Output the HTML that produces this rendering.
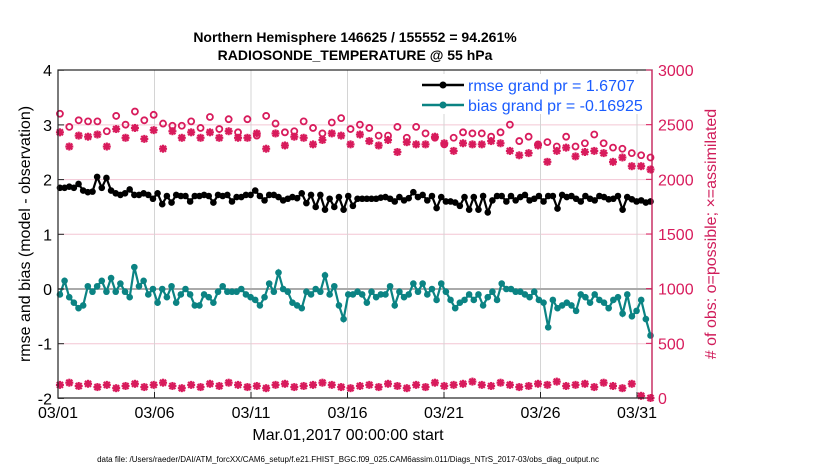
<!DOCTYPE html>
<html><head><meta charset="utf-8"><style>
body{margin:0;background:#fff;font-family:"Liberation Sans",Arial,sans-serif}
svg text{font-family:"Liberation Sans",Arial,sans-serif}
</style></head><body>
<svg id="chart" width="830" height="470" xmlns="http://www.w3.org/2000/svg">
<g id="grid"></g><g id="marks"></g><g id="axes"></g>
<text x="355" y="42" text-anchor="middle" font-size="14" font-weight="bold">Northern Hemisphere 146625 / 155552 = 94.261%</text>
<text x="355" y="60" text-anchor="middle" font-size="14" font-weight="bold">RADIOSONDE_TEMPERATURE @ 55 hPa</text>
<text x="348" y="440" text-anchor="middle" font-size="16">Mar.01,2017 00:00:00 start</text>
<text x="348" y="462" text-anchor="middle" font-size="8">data file: /Users/raeder/DAI/ATM_forcXX/CAM6_setup/f.e21.FHIST_BGC.f09_025.CAM6assim.011/Diags_NTrS_2017-03/obs_diag_output.nc</text>
<text transform="translate(30,234) rotate(-90)" text-anchor="middle" font-size="16">rmse and bias (model - observation)</text>
<text transform="translate(716,234) rotate(-90)" text-anchor="middle" font-size="16" fill="#d01c5a"># of obs: o=possible; ×=assimilated</text>
<g>
<rect x="418" y="74" width="232" height="40" fill="#fff" stroke="none"/>
<line x1="422" y1="85" x2="464" y2="85" stroke="#000" stroke-width="2.5"/><circle cx="443" cy="85" r="3.5" fill="#000"/>
<text x="468" y="91" font-size="16" fill="#1a5cff">rmse grand pr = 1.6707</text>
<line x1="422" y1="105" x2="464" y2="105" stroke="#0b8383" stroke-width="2.5"/><circle cx="443" cy="105" r="3.5" fill="#0b8383"/>
<text x="468" y="111" font-size="16" fill="#1a5cff">bias grand pr = -0.16925</text>
</g>
</svg>
<script>
const xTickLabels=["03/01","03/06","03/11","03/16","03/21","03/26","03/31"];
const xTickDays=[0,5,10,15,20,25,30];
const yLeftTicks=[-2,-1,0,1,2,3,4];
const yRightTicks=[0,500,1000,1500,2000,2500,3000];
const rmse=[1.85,1.85,1.87,1.85,1.92,1.8,1.77,1.78,2.05,1.85,2.03,1.8,1.75,1.72,1.75,1.82,1.72,1.72,1.75,1.72,1.65,1.75,1.55,1.7,1.58,1.72,1.7,1.7,1.6,1.7,1.7,1.72,1.7,1.58,1.72,1.7,1.72,1.6,1.68,1.68,1.72,1.72,1.8,1.7,1.62,1.72,1.72,1.68,1.62,1.65,1.68,1.66,1.75,1.57,1.72,1.5,1.72,1.45,1.65,1.5,1.68,1.45,1.7,1.52,1.65,1.65,1.65,1.65,1.65,1.67,1.68,1.65,1.6,1.68,1.62,1.66,1.77,1.68,1.72,1.62,1.7,1.48,1.68,1.6,1.6,1.58,1.52,1.68,1.45,1.68,1.45,1.7,1.4,1.62,1.7,1.7,1.6,1.7,1.62,1.68,1.72,1.62,1.65,1.7,1.6,1.7,1.7,1.47,1.72,1.68,1.7,1.65,1.6,1.7,1.65,1.62,1.7,1.68,1.64,1.65,1.7,1.45,1.68,1.64,1.6,1.62,1.58,1.6];
const bias=[-0.1,0.15,-0.15,-0.25,-0.35,-0.3,0.05,-0.05,0.05,0.15,-0.05,0.2,-0.05,0.1,-0.05,-0.15,0.4,0.05,0.15,-0.1,0.0,-0.25,0.0,-0.15,0.05,-0.25,-0.1,0.0,-0.1,-0.3,-0.3,-0.1,-0.15,-0.25,-0.05,0.05,-0.05,-0.05,-0.05,0.0,-0.1,-0.15,-0.2,-0.3,-0.15,0.1,-0.05,0.3,0.0,-0.05,-0.25,-0.3,-0.35,-0.05,-0.1,0.0,-0.05,0.25,-0.1,0.05,-0.3,-0.55,-0.1,-0.1,-0.05,-0.1,-0.25,-0.05,-0.15,-0.1,-0.1,0.05,-0.3,-0.05,-0.15,-0.1,0.1,-0.05,0.1,-0.1,0.0,-0.2,0.1,-0.05,-0.2,-0.35,-0.25,-0.2,-0.1,-0.2,-0.1,-0.3,-0.15,-0.05,-0.2,0.1,0.0,0.0,-0.05,-0.05,-0.1,-0.15,-0.05,-0.2,-0.25,-0.7,-0.2,-0.35,-0.3,-0.25,-0.3,-0.4,-0.1,-0.15,-0.25,-0.1,-0.2,-0.25,-0.35,-0.2,-0.15,-0.45,-0.1,-0.5,-0.4,-0.2,-0.55,-0.85];
const obsPossible=[2600,2480,2540,2530,2530,2440,2580,2500,2620,2540,2590,2510,2490,2490,2530,2470,2570,2460,2550,2430,2550,2400,2580,2510,2430,2440,2530,2470,2420,2520,2560,2460,2500,2470,2400,2400,2480,2380,2480,2420,2380,2320,2380,2430,2420,2420,2390,2430,2500,2350,2390,2320,2340,2300,2390,2300,2330,2410,2330,2290,2280,2240,2220,2200];
const obsAssim=[2430,2300,2400,2390,2410,2300,2460,2380,2470,2370,2450,2280,2440,2380,2430,2380,2430,2380,2440,2380,2380,2420,2280,2420,2310,2390,2380,2320,2360,2420,2400,2320,2410,2350,2310,2360,2250,2340,2320,2320,2390,2330,2260,2330,2320,2320,2350,2330,2260,2220,2240,2310,2160,2260,2290,2210,2250,2260,2240,2160,2200,2120,2120,2090];
const obsLow=[120,140,110,130,100,120,90,110,130,100,120,140,110,90,120,100,130,110,140,120,100,110,90,120,130,100,110,120,140,120,100,90,110,120,100,130,110,90,120,100,140,110,120,130,150,120,110,140,120,100,110,130,120,150,110,120,130,100,140,110,90,130,20,0];
const X0=58,X1=652,PX=19.3,Y0=289,PY=54.7,RB=398,RS=328/3000,SPAN=30.6;
const xs=d=>X0+d*PX, yl=v=>Y0-v*PY, yr=v=>RB-v*RS;
const NS="http://www.w3.org/2000/svg";
function mk(p,t,a){const e=document.createElementNS(NS,t);for(const k in a)e.setAttribute(k,a[k]);p.appendChild(e);return e;}
const grid=document.getElementById('grid'),marks=document.getElementById('marks'),axes=document.getElementById('axes');
mk(grid,'rect',{x:X0,y:70,width:X1-X0,height:328,fill:'#fff'});
yLeftTicks.forEach(v=>{if(v>-2&&v<4&&v!==0){const l=mk(grid,'line',{x1:X0,x2:X1,y1:yl(v),y2:yl(v),stroke:'#f3c6d4','stroke-width':1});}});
xTickDays.forEach(d=>{if(d>0){const l=mk(grid,'line',{x1:xs(d),x2:xs(d),y1:70,y2:398,stroke:'#d4d4d4','stroke-width':1});}});
const z=mk(grid,'line',{x1:X0,x2:X1,y1:yl(0),y2:yl(0),stroke:'#aaa','stroke-width':2});

const dayOf=(i,n)=>0.1+i*SPAN/(n-1);
function series(arr,color,name){
 const n=arr.length;
 const pts=arr.map((v,i)=>xs(dayOf(i,n))+','+yl(v)).join(' ');
 const pl=mk(marks,'polyline',{points:pts,fill:'none',stroke:color,'stroke-width':2.2});
 
 arr.forEach((v,i)=>{const c=mk(marks,'circle',{cx:xs(dayOf(i,n)),cy:yl(v),r:3.3,fill:color});
 });
}
series(rmse,'#000','rmse');
series(bias,'#0b8383','bias');
const pink='#d81b5c';
obsPossible.forEach((v,i)=>{const c=mk(marks,'circle',{cx:xs(dayOf(i,obsPossible.length)),cy:yr(v),r:3,fill:'none',stroke:pink,'stroke-width':1.8});
});
function star(v,i,n,name){const x=xs(dayOf(i,n)),y=yr(v);const g=mk(marks,'g',{stroke:pink,'stroke-width':2.2});

mk(g,'line',{x1:x-4,x2:x+4,y1:y,y2:y});mk(g,'line',{x1:x,x2:x,y1:y-4,y2:y+4});
mk(g,'line',{x1:x-3,x2:x+3,y1:y-3,y2:y+3});mk(g,'line',{x1:x-3,x2:x+3,y1:y+3,y2:y-3});}
obsAssim.forEach((v,i)=>star(v,i,obsAssim.length,'obs-assimilated-point'));
obsLow.forEach((v,i)=>star(v,i,obsLow.length,'obs-low-point'));
mk(axes,'rect',{x:X0,y:70,width:X1-X0,height:328,fill:'none',stroke:'#222','stroke-width':1.2});
mk(axes,'line',{x1:X1,x2:X1,y1:70,y2:398,stroke:pink,'stroke-width':1.2});
xTickDays.forEach((d,i)=>{mk(axes,'line',{x1:xs(d),x2:xs(d),y1:398,y2:392,stroke:'#222'});
 const t=mk(axes,'text',{x:xs(d),y:418,'text-anchor':'middle','font-size':16});t.textContent=xTickLabels[i];
 });
yLeftTicks.forEach(v=>{mk(axes,'line',{x1:X0,x2:X0+6,y1:yl(v),y2:yl(v),stroke:'#222'});
 const t=mk(axes,'text',{x:X0-6,y:yl(v)+6,'text-anchor':'end','font-size':16});t.textContent=v;
 });
yRightTicks.forEach(v=>{mk(axes,'line',{x1:X1-6,x2:X1,y1:yr(v),y2:yr(v),stroke:pink});
 const t=mk(axes,'text',{x:X1+6,y:yr(v)+6,'font-size':16,fill:pink});t.textContent=v;
 });
</script>
</body></html>
